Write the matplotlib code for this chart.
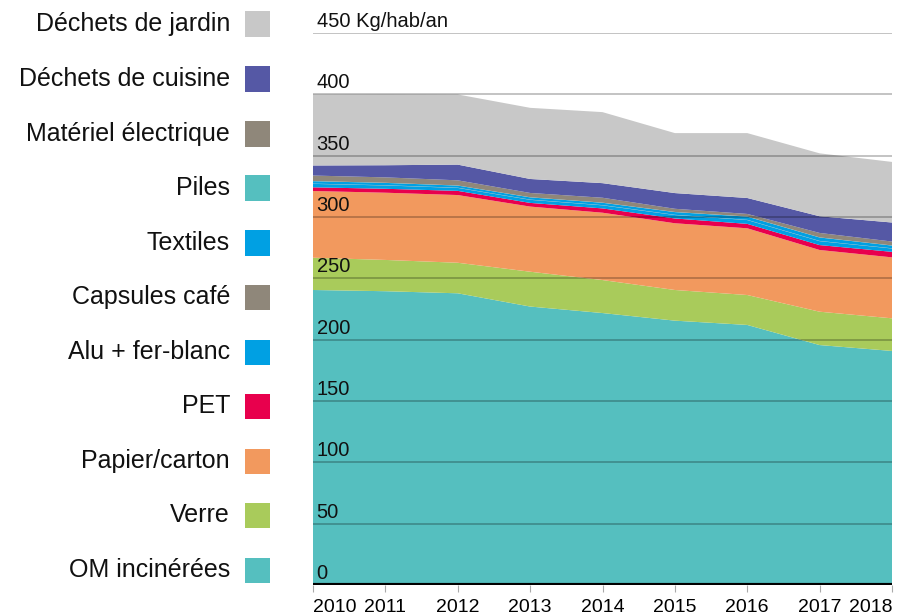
import matplotlib
matplotlib.use("Agg")
import matplotlib.pyplot as plt
from matplotlib.patches import Rectangle

plt.rcParams['font.family'] = ['Liberation Sans', 'DejaVu Sans']

years = [2010, 2011, 2012, 2013, 2014, 2015, 2016, 2017, 2018]

om_incinerees = [240.5, 239.5, 237.8, 227.0, 221.7, 215.5, 212.0, 195.6, 190.8]
verre = [26.3, 25.5, 24.9, 28.4, 26.9, 25.0, 24.4, 27.2, 26.6]
papier_carton = [54.4, 54.8, 55.2, 53.1, 54.9, 54.4, 54.4, 50.3, 49.7]
pet = [3.0, 3.2, 3.4, 3.0, 3.5, 3.9, 3.6, 4.0, 4.5]
alu_fer_blanc = [2.8, 2.7, 2.4, 2.5, 2.5, 2.8, 3.1, 3.2, 2.7]
capsules_cafe = [0.2, 0.2, 0.2, 0.2, 0.2, 0.2, 0.2, 0.2, 0.2]
textiles = [2.0, 1.9, 1.7, 1.8, 1.9, 2.2, 2.6, 2.8, 2.2]
piles = [0.1, 0.1, 0.1, 0.1, 0.1, 0.1, 0.1, 0.1, 0.1]
materiel_electrique = [4.5, 4.4, 4.2, 3.5, 4.0, 2.6, 2.1, 3.6, 3.2]
dechets_cuisine = [8.2, 9.9, 12.8, 11.4, 11.9, 12.8, 13.0, 13.6, 15.5]
dechets_jardin = [57.9, 57.8, 57.2, 58.0, 57.9, 48.9, 52.9, 51.3, 49.4]

labels = ["OM incinérées", "Verre", "Papier/carton", "PET", "Alu + fer-blanc",
          "Capsules café", "Textiles", "Piles", "Matériel électrique",
          "Déchets de cuisine", "Déchets de jardin"]
colors = ["#55BFBF", "#A9CB5B", "#F2995E", "#E8004D", "#00A0E3",
          "#8F877A", "#00A0E3", "#55BFBF", "#8F877A", "#5558A5", "#C8C8C8"]
series = [om_incinerees, verre, papier_carton, pet, alu_fer_blanc, capsules_cafe,
          textiles, piles, materiel_electrique, dechets_cuisine, dechets_jardin]

yticks = [0, 50, 100, 150, 200, 250, 300, 350, 400, 450]

W, H = 897, 616
fig = plt.figure(figsize=(W / 100, H / 100), dpi=100)
ax = fig.add_axes([313 / W, (H - 585) / H, 579 / W, 552 / H])

ax.stackplot(years, *series, colors=colors, linewidth=0, zorder=1)
ax.set_xlim(years[0], years[-1])
ax.set_ylim(0, 450)

for v in yticks[1:]:
    ax.axhline(v, color="black", alpha=0.28, lw=1.2, zorder=3)
    txt = f"{v}" + (" Kg/hab/an" if v == 450 else "")
    ax.text(2010.05, v + 1.5, txt, fontsize=14.5, ha="left", va="bottom", color="#111111", zorder=4)
ax.text(2010.05, 1.5, "0", fontsize=14.5, ha="left", va="bottom", color="#111111", zorder=4)
ax.axhline(0, color="black", lw=3, zorder=5)

for s in ax.spines.values():
    s.set_visible(False)
ax.set_yticks([])
ax.set_xticks(years)
ax.set_xticklabels([str(y) for y in years], fontsize=14)
ax.tick_params(axis="x", length=5, color="#aaaaaa", pad=5)
tl = ax.get_xticklabels()
tl[0].set_ha("left")
tl[-1].set_ha("right")

# legend
row_y = [570, 515, 461, 406, 352, 297, 243, 188, 134, 79, 24]
for lab, col, yy in zip(labels, colors, row_y):
    fig.text(230 / W, 1 - yy / H, lab, fontsize=18, ha="right", va="center", color="#111111")
    fig.patches.append(Rectangle((245 / W, 1 - (yy + 12.5) / H), 25 / W, 25 / H,
                                 transform=fig.transFigure, facecolor=col, edgecolor="none"))

fig.savefig("out.png", dpi=100)
